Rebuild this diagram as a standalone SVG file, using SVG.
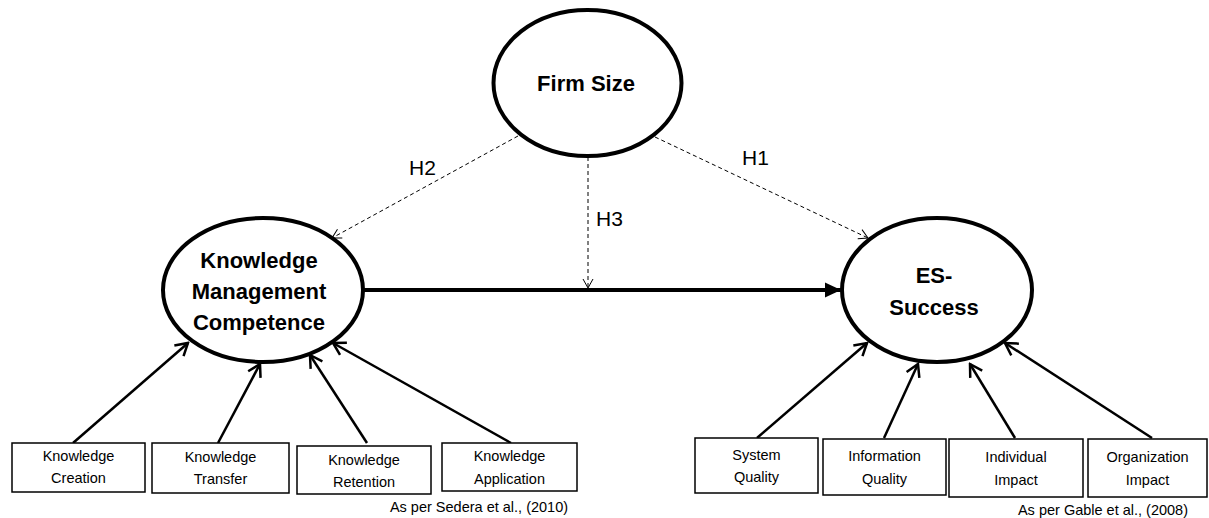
<svg xmlns="http://www.w3.org/2000/svg" width="1209" height="518" viewBox="0 0 1209 518">
<style>
.node ellipse{fill:#fff;stroke:#000;stroke-width:4}
.box rect{fill:#fff;stroke:#000;stroke-width:1.5}
.lbl{font-family:"Liberation Sans",Arial,sans-serif;font-weight:bold;font-size:22px;fill:#000;text-anchor:middle}
.bt{font-family:"Liberation Sans",Arial,sans-serif;font-size:14.5px;fill:#000;text-anchor:middle}
.h{font-family:"Liberation Sans",Arial,sans-serif;font-size:21px;fill:#000}
.note{font-family:"Liberation Sans",Arial,sans-serif;font-size:14.5px;fill:#000;text-anchor:middle}
.ind{stroke:#000;stroke-width:2.5;fill:none}
.dash{stroke:#000;stroke-width:1;stroke-dasharray:4,3;fill:none}
.main{stroke:#000;stroke-width:4;fill:none}
</style>
<defs>
<marker id="openHead" markerUnits="userSpaceOnUse" viewBox="-14 -9 16 18" refX="0" refY="0" markerWidth="16" markerHeight="18" orient="auto">
<path d="M-12,-7 L0,0 L-12,7" fill="none" stroke="#000" stroke-width="2.5"/>
</marker>
<marker id="dashHead" markerUnits="userSpaceOnUse" viewBox="-11 -7 12 14" refX="0" refY="0" markerWidth="12" markerHeight="14" orient="auto">
<path d="M-9,-5 L0,0 L-9,5" fill="none" stroke="#000" stroke-width="1"/>
</marker>
<marker id="solidHead" markerUnits="userSpaceOnUse" viewBox="-17 -8 18 16" refX="0" refY="0" markerWidth="18" markerHeight="16" orient="auto">
<path d="M-16,-7.5 L0,0 L-16,7.5 Z" fill="#000"/>
</marker>
</defs>

<g id="connectors">
<line class="main" x1="363" y1="290" x2="841" y2="290" marker-end="url(#solidHead)"/>
<line class="dash" x1="518" y1="136" x2="332" y2="238" marker-end="url(#dashHead)"/>
<line class="dash" x1="655" y1="137" x2="868" y2="238" marker-end="url(#dashHead)"/>
<line class="dash" x1="588" y1="157" x2="588" y2="288" marker-end="url(#dashHead)"/>
<line class="ind" x1="73" y1="443" x2="188" y2="343" marker-end="url(#openHead)"/>
<line class="ind" x1="218" y1="443" x2="260" y2="364" marker-end="url(#openHead)"/>
<line class="ind" x1="367" y1="443" x2="310" y2="355" marker-end="url(#openHead)"/>
<line class="ind" x1="511" y1="443" x2="333" y2="343" marker-end="url(#openHead)"/>
<line class="ind" x1="757" y1="438" x2="867" y2="343" marker-end="url(#openHead)"/>
<line class="ind" x1="884" y1="438" x2="918" y2="364" marker-end="url(#openHead)"/>
<line class="ind" x1="1015" y1="438" x2="970" y2="364" marker-end="url(#openHead)"/>
<line class="ind" x1="1152" y1="438" x2="1005" y2="343" marker-end="url(#openHead)"/>
<text class="h" x="409" y="175">H2</text>
<text class="h" x="742" y="165">H1</text>
<text class="h" x="596" y="226">H3</text>
</g>

<g id="firm-size" class="node">
<ellipse cx="587.5" cy="83" rx="94" ry="73"/>
<text class="lbl" x="586" y="91">Firm Size</text>
</g>

<g id="kmc" class="node">
<ellipse cx="263" cy="290" rx="100" ry="72"/>
<text class="lbl" x="259" y="268">Knowledge</text>
<text class="lbl" x="259" y="299">Management</text>
<text class="lbl" x="259" y="330">Competence</text>
</g>

<g id="es-success" class="node">
<ellipse cx="937" cy="290" rx="95" ry="72"/>
<text class="lbl" x="934" y="283">ES-</text>
<text class="lbl" x="934" y="315">Success</text>
</g>

<g id="knowledge-creation" class="box">
<rect x="12" y="443" width="133" height="49"/>
<text class="bt" x="78.5" y="461">Knowledge</text>
<text class="bt" x="78.5" y="483">Creation</text>
</g>
<g id="knowledge-transfer" class="box">
<rect x="152" y="443" width="137" height="50"/>
<text class="bt" x="220.5" y="462">Knowledge</text>
<text class="bt" x="220.5" y="484">Transfer</text>
</g>
<g id="knowledge-retention" class="box">
<rect x="297" y="446" width="134" height="48"/>
<text class="bt" x="364" y="465">Knowledge</text>
<text class="bt" x="364" y="487">Retention</text>
</g>
<g id="knowledge-application" class="box">
<rect x="442" y="443" width="135" height="48"/>
<text class="bt" x="509.5" y="461">Knowledge</text>
<text class="bt" x="509.5" y="484">Application</text>
</g>

<g id="system-quality" class="box">
<rect x="695" y="438" width="123" height="55"/>
<text class="bt" x="756.5" y="460">System</text>
<text class="bt" x="756.5" y="482">Quality</text>
</g>
<g id="information-quality" class="box">
<rect x="823" y="439" width="123" height="56"/>
<text class="bt" x="884.5" y="461">Information</text>
<text class="bt" x="884.5" y="484">Quality</text>
</g>
<g id="individual-impact" class="box">
<rect x="949" y="439" width="134" height="58"/>
<text class="bt" x="1016" y="462">Individual</text>
<text class="bt" x="1016" y="485">Impact</text>
</g>
<g id="organization-impact" class="box">
<rect x="1088" y="439" width="119" height="58"/>
<text class="bt" x="1147.5" y="462">Organization</text>
<text class="bt" x="1147.5" y="485">Impact</text>
</g>

<text class="note" x="479" y="512">As per Sedera et al., (2010)</text>
<text class="note" x="1103" y="515">As per Gable et al., (2008)</text>
</svg>
